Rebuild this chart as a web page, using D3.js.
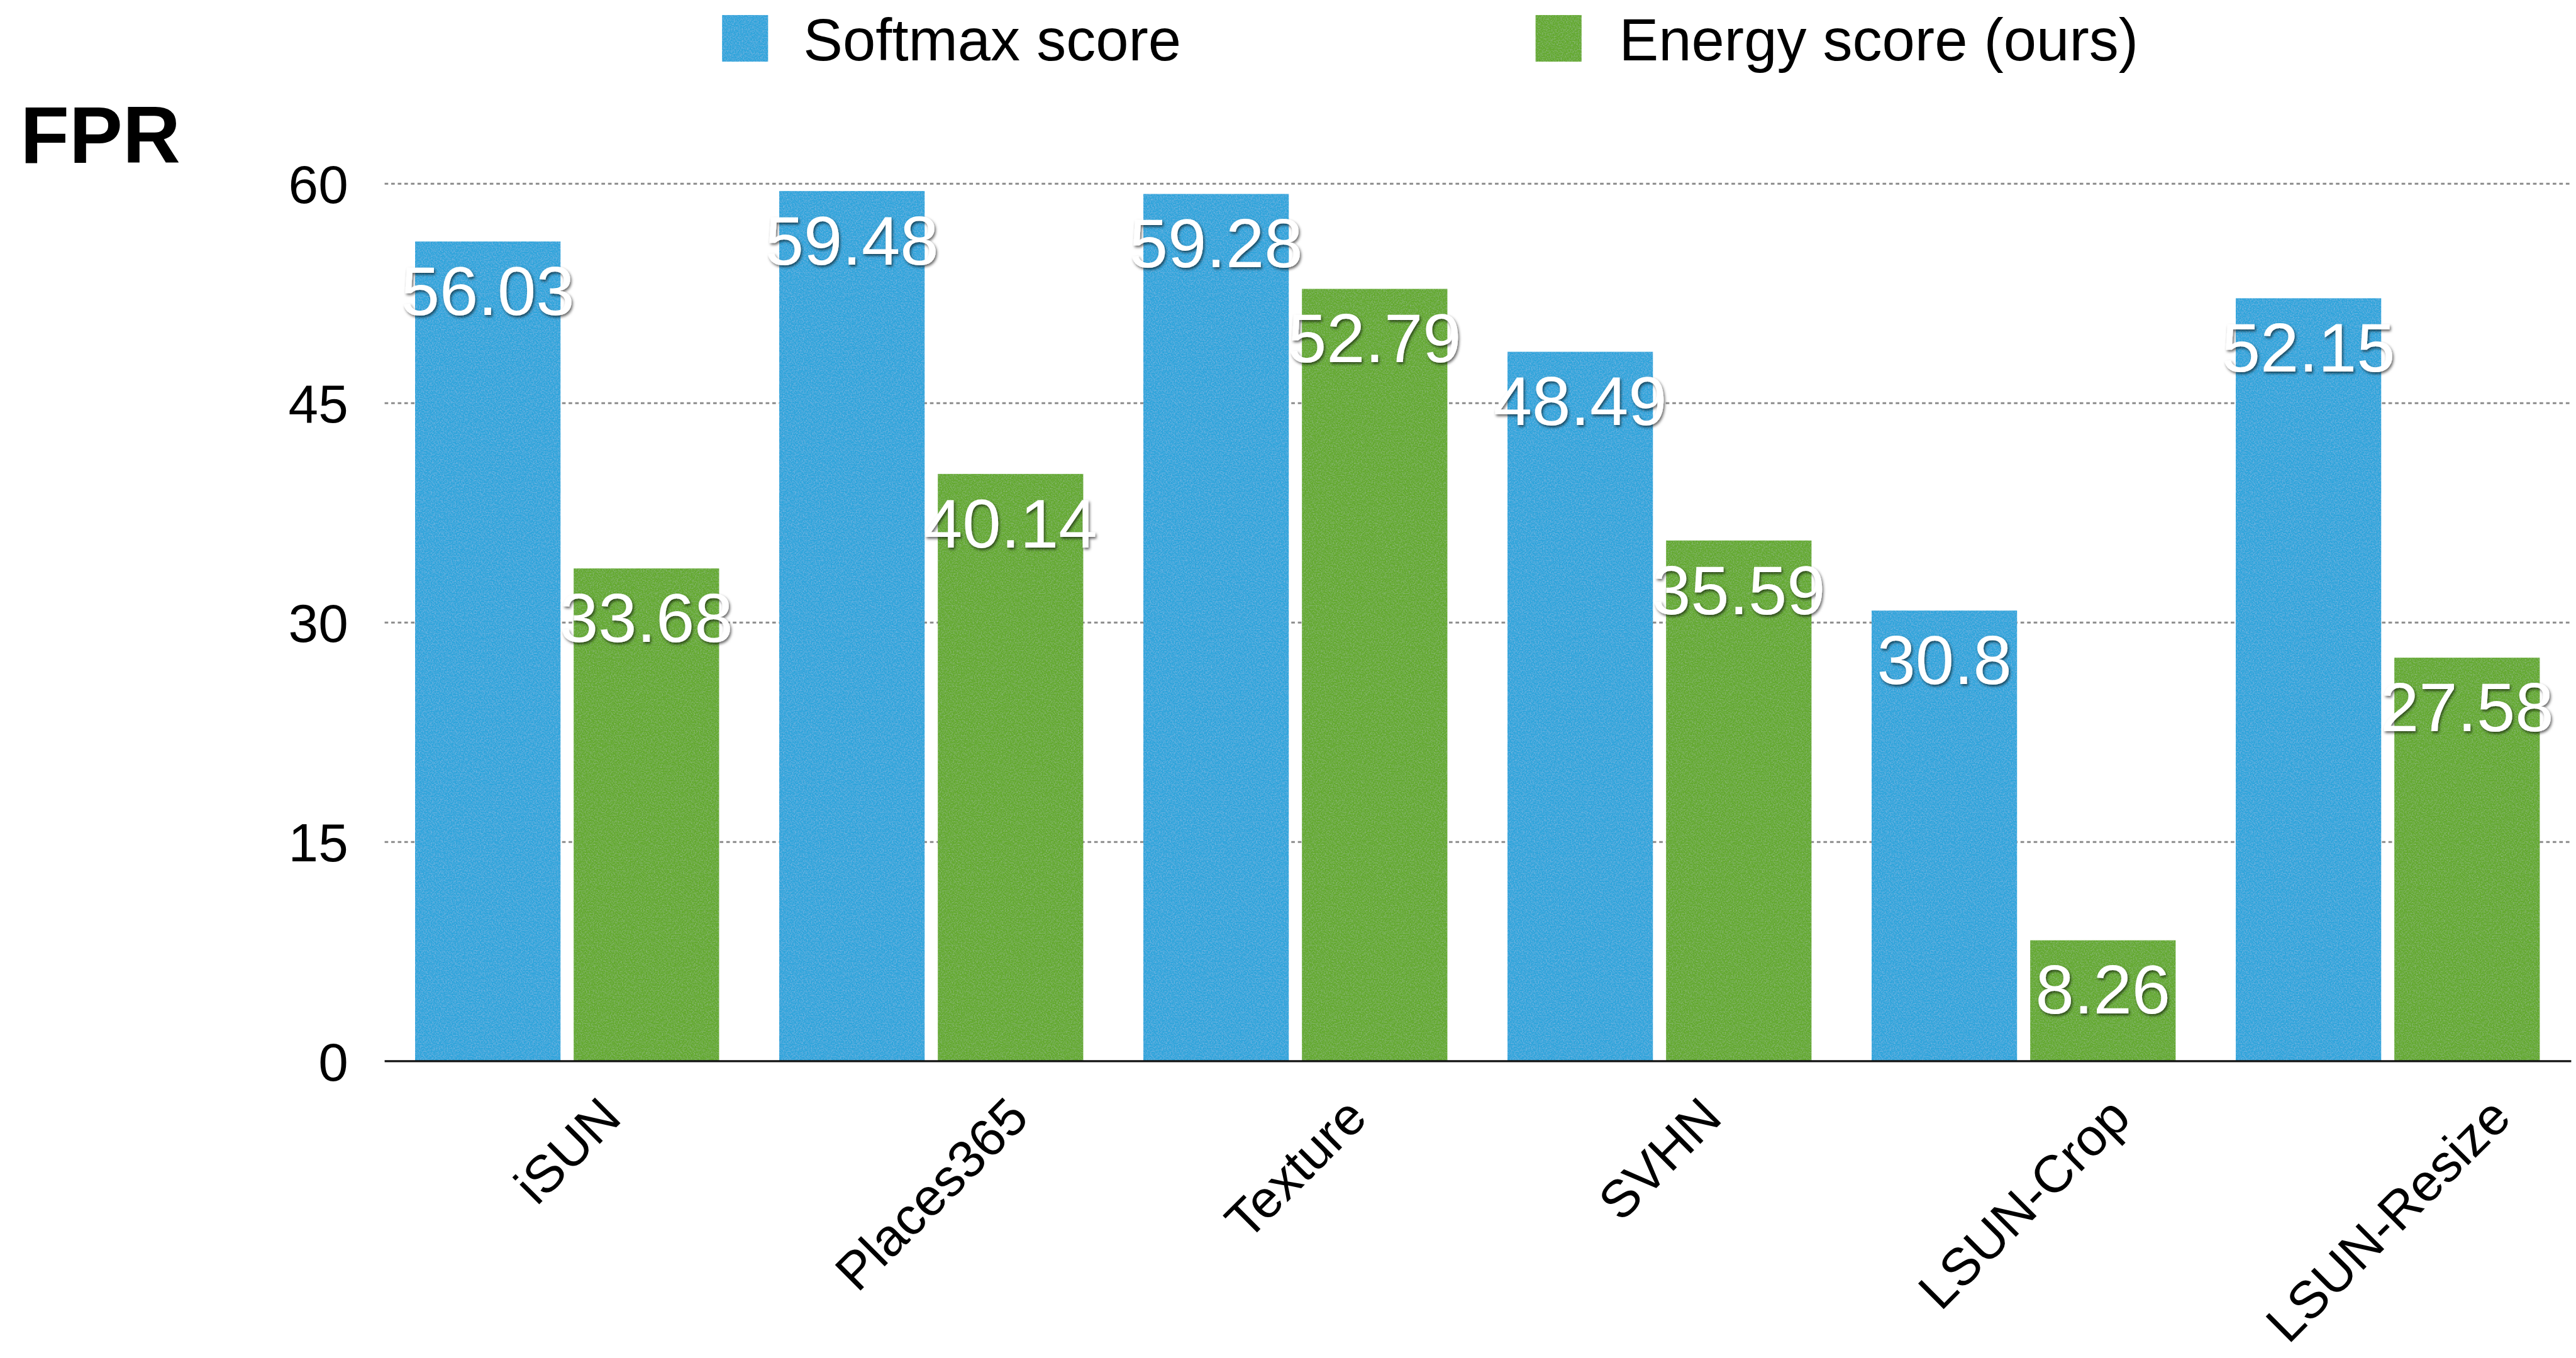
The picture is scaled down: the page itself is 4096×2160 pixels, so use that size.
<!DOCTYPE html>
<html>
<head>
<meta charset="utf-8">
<script src="https://cdn.jsdelivr.net/npm/d3@7"></script>
<style>
  html, body { margin: 0; padding: 0; background: #ffffff; }
  svg { display: block; }
  text { font-family: "Liberation Sans", Arial, Helvetica, sans-serif; }
</style>
</head>
<body>
<svg id="chart" width="4096" height="2160"></svg>
<script>
// Out-of-distribution detection: false positive rate per test dataset
const categories = ["iSUN", "Places365", "Texture", "SVHN", "LSUN-Crop", "LSUN-Resize"];
const seriesKeys = ["softmax", "energy"];
const seriesNames = ["Softmax score", "Energy score (ours)"];
const softmaxValues = [56.03, 59.48, 59.28, 48.49, 30.8, 52.15];
const energyValues = [33.68, 40.14, 52.79, 35.59, 8.26, 27.58];
const yTicks = [0, 15, 30, 45, 60];
const colors = ["#2fa4db", "#64a92e"];

const W = 4313, H = 2274;
const svg = d3.select("#chart")
  .attr("viewBox", `0 0 ${W} ${H}`);

// paper-like grain used on the bars and legend swatches
const defs = svg.append("defs");
const grain = defs.append("filter").attr("id", "grain")
  .attr("x", 0).attr("y", 0).attr("width", 1).attr("height", 1);
grain.append("feTurbulence").attr("type", "fractalNoise")
  .attr("baseFrequency", 0.45).attr("numOctaves", 3).attr("seed", 7).attr("result", "n");
grain.append("feColorMatrix").attr("in", "n").attr("type", "matrix")
  .attr("values", "0 0 0 0 1  0 0 0 0 1  0 0 0 0 1  0.3 0 0 0 -0.12").attr("result", "w");
grain.append("feComposite").attr("in", "w").attr("in2", "SourceGraphic")
  .attr("operator", "in").attr("result", "wi");
const gm = grain.append("feMerge");
gm.append("feMergeNode").attr("in", "SourceGraphic");
gm.append("feMergeNode").attr("in", "wi");

// soft drop shadow behind the white value labels
const shadow = defs.append("filter").attr("id", "shadow")
  .attr("x", "-20%").attr("y", "-30%").attr("width", "140%").attr("height", "160%");
shadow.append("feDropShadow").attr("dx", 2).attr("dy", 3)
  .attr("stdDeviation", 2.5).attr("flood-color", "#000").attr("flood-opacity", 0.6);

const plotLeft = 644, plotRight = 4302, axisRight = 4305;
const x0 = d3.scaleBand().domain(categories).range([plotLeft, plotRight]);
const x1 = d3.scaleBand().domain(seriesKeys).range([51, 560]).paddingInner(0.083);
const y = d3.scaleLinear().domain([0, 60]).range([1777, 307]);

// horizontal dotted gridlines + tick labels
const yAxis = svg.append("g")
  .attr("transform", `translate(${plotLeft},0)`)
  .call(d3.axisLeft(y).tickValues(yTicks)
    .tickSizeInner(-(axisRight - plotLeft)).tickSizeOuter(0).tickPadding(61));
yAxis.select(".domain").remove();
yAxis.selectAll(".tick line")
  .attr("stroke", "#8c8c8c").attr("stroke-width", 3)
  .attr("stroke-dasharray", "6,5")
  .filter(d => d === 0).remove();
yAxis.selectAll(".tick text")
  .attr("font-size", 90).attr("fill", "#000")
  .attr("font-family", "Liberation Sans, Arial, sans-serif")
  .attr("dy", "0.36em");

// y-axis title
svg.append("text")
  .attr("x", 34).attr("y", 272)
  .attr("font-size", 134).attr("font-weight", "bold").attr("fill", "#000")
  .text("FPR");

// bars
const rows = categories.map((c, i) => ({
  category: c,
  values: [softmaxValues[i], energyValues[i]]
}));

const groups = svg.append("g").selectAll("g.group")
  .data(rows).join("g")
  .attr("class", "group")
  .attr("transform", d => `translate(${x0(d.category)},0)`);

groups.selectAll("rect")
  .data(d => d.values.map((v, k) => ({ key: seriesKeys[k], value: v, k })))
  .join("rect")
  .attr("x", d => x1(d.key))
  .attr("y", d => y(d.value))
  .attr("width", x1.bandwidth())
  .attr("height", d => y(0) - y(d.value))
  .attr("fill", d => colors[d.k])
  .attr("filter", "url(#grain)");

groups.selectAll("text.value")
  .data(d => d.values.map((v, k) => ({ key: seriesKeys[k], value: v, k })))
  .join("text")
  .attr("class", "value")
  .attr("x", d => x1(d.key) + x1.bandwidth() / 2)
  .attr("y", d => y(d.value) + 123)
  .attr("text-anchor", "middle")
  .attr("font-size", 116)
  .attr("fill", "#ffffff")
  .attr("filter", "url(#shadow)")
  .text(d => String(d.value));

// baseline axis with rotated category labels
const xAxis = svg.append("g")
  .attr("transform", `translate(0,${y(0)})`)
  .call(d3.axisBottom(x0).tickSize(0).tickSizeOuter(0));
xAxis.select(".domain")
  .attr("d", `M${plotLeft},0H${axisRight}`)
  .attr("stroke", "#111").attr("stroke-width", 3.5);
const labelSize = 88;
xAxis.selectAll(".tick text")
  .attr("font-size", labelSize)
  .attr("font-family", "Liberation Sans, Arial, sans-serif")
  .attr("fill", "#000")
  .attr("text-anchor", "middle")
  .attr("y", 0)
  .attr("dy", "0.36em")
  .attr("transform", function () {
    const w = this.getComputedTextLength();
    const off = 54 + (w + 0.72 * labelSize) * Math.SQRT1_2 / 2;
    return `translate(0,${off}) rotate(-45)`;
  });

// legend
const legendItems = [
  { name: seriesNames[0], color: colors[0], x: 1209, tx: 1345 },
  { name: seriesNames[1], color: colors[1], x: 2571, tx: 2711 }
];
const legend = svg.append("g").selectAll("g").data(legendItems).join("g");
legend.append("rect")
  .attr("x", d => d.x).attr("y", 25)
  .attr("width", 77).attr("height", 78)
  .attr("fill", d => d.color)
  .attr("filter", "url(#grain)");
legend.append("text")
  .attr("x", d => d.tx).attr("y", 101)
  .attr("font-size", 99).attr("fill", "#000")
  .text(d => d.name);
</script>
</body>
</html>
